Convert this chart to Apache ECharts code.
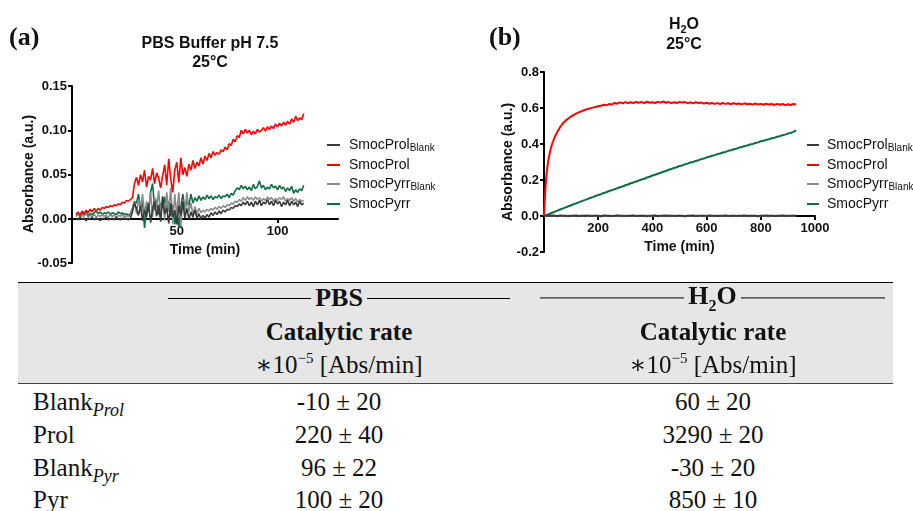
<!DOCTYPE html>
<html>
<head>
<meta charset="utf-8">
<script src="https://cdn.jsdelivr.net/npm/echarts@6/dist/echarts.min.js"></script>
<style>
  html, body { margin: 0; padding: 0; background: #fff; }
  #wrap { position: relative; width: 913px; height: 511px; overflow: hidden; }
  #chart { position: absolute; left: 0; top: 0; width: 913px; height: 282px; }
  .tb { font-family: 'Liberation Serif', 'DejaVu Serif', serif; color: #111; }
  .hdr { position: absolute; left: 18px; top: 282px; width: 875px; height: 100px;
         background: #e6e6e6; border-top: 1.5px solid #000; border-bottom: 1px solid #444; }
  .c { position: absolute; transform: translate(-50%, -50%); white-space: nowrap; font-size: 25px; }
  .l { position: absolute; transform: translate(0, -50%); white-space: nowrap; font-size: 25px; }
  .b { font-weight: bold; }
  .grp { position: absolute; display: flex; align-items: center; transform: translateY(-50%);
         font-size: 26px; font-weight: bold; }
  .rule { flex: 1; border-top: 1.5px solid #000; height: 0; }
  .grp .t { padding: 0 4px; }
  .sub { font-style: italic; font-size: 18px; position: relative; top: 6px; }
  sup { font-size: 15px; }
</style>
</head>
<body>
<div id="wrap">
  <div id="chart"></div>
  <div class="tb">
    <div class="hdr"></div>
    <div class="grp" style="left:168px;width:342px;top:298px"><span class="rule"></span><span class="t">PBS</span><span class="rule"></span></div>
    <div class="grp" style="left:540px;width:345px;top:298px"><span class="rule"></span><span class="t">H<sub style="font-size:16px">2</sub>O</span><span class="rule"></span></div>
    <div class="c b" style="left:339px;top:332px">Catalytic rate</div>
    <div class="c b" style="left:713px;top:332px">Catalytic rate</div>
    <div class="c" style="left:339px;top:364px">∗10<sup>−5</sup> [Abs/min]</div>
    <div class="c" style="left:713px;top:364px">∗10<sup>−5</sup> [Abs/min]</div>
    <div id="rows"></div>
  </div>
</div>
<script>
// ---- panel (a): PBS buffer, sampled every minute ----
const timeA = [];
for (let t = 0; t <= 113; t++) timeA.push(t);

const prolBlankA = [
  0.001, -0.001, 0.002, 0.0, 0.001, -0.002, 0.001, 0.0, 0.002, -0.001,
  0.001, 0.0, -0.002, 0.001, 0.0, 0.002, -0.001, 0.0, 0.001, -0.001,
  0.002, 0.0, -0.001, 0.001, 0.0, 0.001, -0.001, 0.001,
  0.008, 0.018, 0.012, 0.004, 0.015, -0.002, 0.010, 0.002, 0.018, -0.004,
  0.012, 0.020, 0.003, 0.016, -0.003, 0.025, 0.006, 0.012, -0.005, 0.018,
  0.002, 0.010, -0.006, 0.015, 0.004, 0.020, 0.001, 0.012, 0.0, 0.008,
  0.002, 0.010, 0.001, 0.006, 0.0, 0.004, 0.001, 0.005, 0.002, 0.007,
  0.004, 0.008, 0.005, 0.009, 0.006, 0.010, 0.008, 0.011, 0.010, 0.013,
  0.012, 0.015, 0.014, 0.017, 0.015, 0.019, 0.016, 0.020, 0.015, 0.019,
  0.014, 0.020, 0.016, 0.021, 0.015, 0.019, 0.017, 0.022, 0.016, 0.020,
  0.015, 0.021, 0.017, 0.020, 0.014, 0.019, 0.016, 0.021, 0.015, 0.020,
  0.016, 0.019, 0.014, 0.020, 0.016, 0.018
];
const prolA = [
  0.005, 0.008, 0.004, 0.009, 0.006, 0.010, 0.007, 0.011, 0.008, 0.012,
  0.009, 0.012, 0.010, 0.013, 0.012, 0.014, 0.013, 0.015, 0.014, 0.016,
  0.015, 0.017, 0.016, 0.019, 0.018, 0.021, 0.020, 0.022,
  0.024, 0.040, 0.047, 0.038, 0.050, 0.042, 0.055, 0.036, 0.048, 0.044,
  0.057, 0.040, 0.052, 0.046, 0.035, 0.049, 0.061, 0.038, 0.068, 0.045,
  0.030, 0.055, 0.064, 0.041, 0.069, 0.050, 0.058, 0.048, 0.062, 0.055,
  0.066, 0.057, 0.064, 0.060, 0.069, 0.062, 0.071, 0.066, 0.074, 0.069,
  0.076, 0.072, 0.075, 0.073, 0.078, 0.076, 0.081, 0.078, 0.085, 0.083,
  0.090, 0.087, 0.094, 0.092, 0.100, 0.096, 0.101, 0.097, 0.100, 0.095,
  0.099, 0.096, 0.101, 0.098, 0.100, 0.103, 0.099, 0.104, 0.101, 0.105,
  0.102, 0.107, 0.104, 0.108, 0.105, 0.109, 0.106, 0.110, 0.107, 0.113,
  0.109, 0.116, 0.111, 0.114, 0.112, 0.119
];
const pyrrBlankA = [
  0.003, 0.005, 0.002, 0.004, 0.003, 0.006, 0.002, 0.004, 0.003, 0.005,
  0.002, 0.004, 0.003, 0.005, 0.003, 0.004, 0.002, 0.005, 0.003, 0.004,
  0.002, 0.004, 0.003, 0.005, 0.002, 0.004, 0.003, 0.004,
  0.010, 0.020, 0.006, 0.022, 0.010, 0.028, 0.005, 0.020, 0.010, 0.030,
  0.002, 0.025, 0.012, 0.032, 0.004, 0.026, -0.002, 0.030, 0.008, 0.035,
  -0.006, 0.028, 0.004, 0.030, -0.008, 0.022, 0.006, 0.030, 0.008, 0.018,
  0.005, 0.014, 0.006, 0.012, 0.007, 0.010, 0.008, 0.011, 0.009, 0.012,
  0.010, 0.013, 0.011, 0.014, 0.012, 0.015, 0.013, 0.016, 0.015, 0.018,
  0.017, 0.020, 0.019, 0.022, 0.020, 0.024, 0.021, 0.025, 0.022, 0.024,
  0.021, 0.025, 0.022, 0.024, 0.020, 0.023, 0.021, 0.025, 0.022, 0.024,
  0.020, 0.023, 0.021, 0.024, 0.022, 0.025, 0.020, 0.023, 0.021, 0.024,
  0.020, 0.023, 0.019, 0.022, 0.020, 0.021
];
const pyrrA = [
  0.004, 0.006, 0.003, 0.007, 0.005, 0.008, 0.004, 0.006, 0.005, 0.007,
  0.009, 0.006, 0.008, 0.005, 0.007, 0.006, 0.008, 0.005, 0.007, 0.006,
  0.005, 0.008, 0.006, 0.007, 0.005, 0.006, 0.004, 0.006,
  0.012, 0.020, 0.018, 0.028, 0.012, 0.020, -0.010, 0.015, 0.008, 0.030,
  0.040, 0.010, 0.022, 0.005, 0.018, 0.012, 0.025, 0.008, 0.020, 0.003,
  0.016, -0.006, 0.010, -0.010, 0.014, 0.028, 0.010, 0.022, 0.015, 0.028,
  0.018, 0.024, 0.020, 0.026, 0.021, 0.025, 0.022, 0.027, 0.023, 0.026,
  0.022, 0.025, 0.024, 0.027, 0.023, 0.026, 0.025, 0.028, 0.024, 0.029,
  0.027, 0.032, 0.035, 0.033, 0.038, 0.034, 0.037, 0.033, 0.036, 0.032,
  0.039, 0.034, 0.037, 0.043, 0.035, 0.038, 0.033, 0.036, 0.034, 0.039,
  0.035, 0.037, 0.033, 0.038, 0.034, 0.036, 0.031, 0.035, 0.032, 0.037,
  0.029, 0.033, 0.030, 0.034, 0.032, 0.038
];

// ---- panel (b): water ----
const timeB = [0, 2, 4, 6, 8, 10, 15, 20, 25, 30];
for (let t = 40; t <= 930; t += 10) timeB.push(t);

const prolBlankB = [
  0.001, 0.002, 0.0, 0.003, 0.001, 0.002, 0.0, 0.002, 0.001, 0.003,
  0.002, 0.0, 0.003, 0.001, 0.002, -0.001, 0.002, 0.001, 0.003, 0.0,
  0.002, 0.001, 0.003, 0.0, 0.002, 0.001, 0.002, -0.001, 0.003, 0.001,
  0.002, 0.0, 0.001, 0.003, 0.001, 0.002, 0.0, 0.002, 0.001, 0.003,
  0.0, 0.002, 0.001, 0.002, -0.001, 0.002, 0.001, 0.003, 0.0, 0.002,
  0.001, 0.003, 0.001, 0.002, 0.0, 0.002, 0.001, 0.002, -0.001, 0.002,
  0.001, 0.003, 0.0, 0.002, 0.001, 0.002, 0.0, 0.003, 0.001, 0.002,
  0.0, 0.002, 0.001, 0.003, 0.0, 0.001, 0.002, 0.0, 0.002, 0.001,
  0.003, 0.0, 0.002, 0.001, 0.002, -0.001, 0.002, 0.001, 0.003, 0.001,
  0.002, 0.0, 0.002, 0.001, 0.003, 0.0, 0.002, 0.001, 0.002, 0.001
];
const prolB = [
  0.0, 0.06, 0.12, 0.17, 0.21, 0.24, 0.30, 0.34, 0.375, 0.40,
  0.44, 0.47, 0.495, 0.515, 0.53, 0.542, 0.553, 0.562, 0.57, 0.577,
  0.583, 0.589, 0.594, 0.598, 0.602, 0.606,
  0.610, 0.612, 0.618, 0.615, 0.622, 0.619, 0.628, 0.624, 0.631, 0.626,
  0.633, 0.627, 0.632, 0.628, 0.634, 0.629, 0.633, 0.627, 0.635, 0.629,
  0.632, 0.628, 0.634, 0.630, 0.636, 0.629, 0.633, 0.627, 0.632, 0.628,
  0.634, 0.630, 0.633, 0.627, 0.631, 0.626, 0.632, 0.628, 0.630, 0.625,
  0.629, 0.624, 0.628, 0.623, 0.627, 0.622, 0.628, 0.623, 0.626, 0.621,
  0.627, 0.622, 0.625, 0.620, 0.626, 0.621, 0.624, 0.619, 0.625, 0.620,
  0.623, 0.618, 0.624, 0.619, 0.622, 0.617, 0.623, 0.618, 0.622, 0.616,
  0.621, 0.617, 0.622, 0.619
];
const pyrrBlankB = [
  0.0, 0.001, -0.001, 0.0, 0.002, -0.001, 0.001, 0.0, -0.002, 0.001,
  0.0, -0.001, 0.001, 0.0, -0.002, 0.001, 0.0, 0.002, -0.001, 0.0,
  0.001, -0.001, 0.0, 0.002, -0.001, 0.001, 0.0, -0.002, 0.001, 0.0,
  -0.001, 0.001, 0.0, 0.002, 0.0, -0.001, 0.001, -0.002, 0.0, 0.001,
  0.0, -0.001, 0.002, 0.0, 0.001, -0.001, 0.0, 0.001, -0.002, 0.0,
  0.001, 0.0, -0.001, 0.002, 0.0, -0.001, 0.001, 0.0, -0.002, 0.001,
  0.0, 0.001, -0.001, 0.0, 0.002, -0.001, 0.0, 0.001, -0.001, 0.0,
  0.002, 0.0, -0.001, 0.001, 0.0, -0.002, 0.001, 0.0, 0.001, -0.001,
  0.0, 0.002, -0.001, 0.0, 0.001, -0.001, 0.0, 0.002, 0.0, -0.001,
  0.001, 0.0, -0.002, 0.001, 0.0, 0.001, -0.001, 0.0, 0.002, 0.0
];
const pyrrB = [
  0.0, 0.001, 0.002, 0.003, 0.004, 0.006, 0.009, 0.012, 0.015, 0.018,
  0.024, 0.030, 0.036, 0.042, 0.048, 0.054, 0.060, 0.066, 0.071, 0.077,
  0.083, 0.088, 0.094, 0.100, 0.105, 0.111,
  0.117, 0.121, 0.128, 0.132, 0.139, 0.143, 0.149, 0.154, 0.160, 0.164,
  0.171, 0.175, 0.182, 0.186, 0.192, 0.197, 0.203, 0.207, 0.214, 0.218,
  0.225, 0.229, 0.235, 0.240, 0.246, 0.250, 0.257, 0.261, 0.267, 0.271,
  0.278, 0.281, 0.287, 0.291, 0.297, 0.300, 0.306, 0.310, 0.316, 0.319,
  0.326, 0.329, 0.335, 0.338, 0.344, 0.347, 0.353, 0.356, 0.362, 0.365,
  0.371, 0.374, 0.380, 0.383, 0.389, 0.392, 0.397, 0.400, 0.406, 0.409,
  0.415, 0.418, 0.423, 0.426, 0.432, 0.435, 0.440, 0.443, 0.449, 0.452,
  0.458, 0.461, 0.467, 0.476
];

const seriesNames = ['SmocProl_Blank', 'SmocProl', 'SmocPyrr_Blank', 'SmocPyrr'];
const colors = { SmocProl_Blank: '#3a3a3a', SmocProl: '#ff0000', SmocPyrr_Blank: '#8a8a8a', SmocPyrr: '#0b6e45' };
const xTicksA = [50, 100];
const xTicksB = [200, 400, 600, 800, 1000];

// table rows
const rowNames = [['Blank', 'Prol'], ['Prol', ''], ['Blank', 'Pyr'], ['Pyr', '']];
const ratePBS = ['-10 ± 20', '220 ± 40', '96 ± 22', '100 ± 20'];
const rateH2O = ['60 ± 20', '3290 ± 20', '-30 ± 20', '850 ± 10'];
const rowY = [402, 435, 468, 500];

let rowsHtml = '';
rowNames.forEach((r, i) => {
  rowsHtml += '<div class="l" style="left:33px;top:' + rowY[i] + 'px">' + r[0] +
    (r[1] ? '<span class="sub">' + r[1] + '</span>' : '') + '</div>';
  rowsHtml += '<div class="c" style="left:339px;top:' + rowY[i] + 'px">' + ratePBS[i] + '</div>';
  rowsHtml += '<div class="c" style="left:713px;top:' + rowY[i] + 'px">' + rateH2O[i] + '</div>';
});
document.getElementById('rows').innerHTML = rowsHtml;

const FONT = 'Liberation Sans, Arial, sans-serif';
const AXIS_LINE = { show: true, onZero: false, lineStyle: { color: '#000', width: 2 } };
const TICK_LABEL = { color: '#111', fontSize: 13, fontWeight: 'bold', fontFamily: FONT };

function pairs(times, vals) {
  return times.map((t, i) => [t, vals[i]]);
}

function legendFmt(name) {
  const p = name.split('_');
  return p[1] ? '{m|' + p[0] + '}{s|' + p[1] + '}' : '{m|' + p[0] + '}';
}

const legendRich = {
  m: { fontSize: 14, fontFamily: FONT, color: '#111', lineHeight: 16 },
  s: { fontSize: 10, fontFamily: FONT, color: '#111', lineHeight: 10, verticalAlign: 'bottom' }
};

const chart = echarts.init(document.getElementById('chart'));

// each panel = upper grid (0 .. max) + lower grid (min .. 0) so that the
// time axis sits on the zero line together with its labels
const allSeries = [];
const drawOrder = ['SmocPyrr', 'SmocPyrr_Blank', 'SmocProl_Blank', 'SmocProl'];
const dataA = { SmocProl_Blank: prolBlankA, SmocProl: prolA, SmocPyrr_Blank: pyrrBlankA, SmocPyrr: pyrrA };
const dataB = { SmocProl_Blank: prolBlankB, SmocProl: prolB, SmocPyrr_Blank: pyrrBlankB, SmocPyrr: pyrrB };
drawOrder.forEach(n => {
  allSeries.push({
    name: n, type: 'line', xAxisIndex: 0, yAxisIndex: 0, showSymbol: false, clip: false,
    lineStyle: { width: 1.6, color: colors[n] }, itemStyle: { color: colors[n] },
    data: pairs(timeA, dataA[n])
  });
});
drawOrder.forEach(n => {
  allSeries.push({
    name: n, type: 'line', xAxisIndex: 2, yAxisIndex: 2, showSymbol: false, clip: false,
    lineStyle: { width: 2, color: colors[n] }, itemStyle: { color: colors[n] },
    data: pairs(timeB, dataB[n])
  });
});

const yName = (x, y) => ({
  type: 'text', x: x, y: y, rotation: Math.PI / 2,
  style: { text: 'Absorbance (a.u.)', font: 'bold 14px Liberation Sans', fill: '#111',
    textAlign: 'center', textVerticalAlign: 'middle' }
});

chart.setOption({
  animation: false,
  backgroundColor: '#fff',
  title: [
    {
      text: 'PBS Buffer pH 7.5\n25°C', left: 205, top: 29, textAlign: 'center',
      textStyle: { fontSize: 16, fontWeight: 'bold', fontFamily: FONT, color: '#111', lineHeight: 19 }
    },
    {
      text: '{t|H}{s|2}{t|O}\n{t|25°C}', left: 679, top: 10, textAlign: 'center',
      textStyle: {
        rich: {
          t: { fontSize: 16, fontWeight: 'bold', fontFamily: FONT, color: '#111', lineHeight: 20 },
          s: { fontSize: 11, fontWeight: 'bold', fontFamily: FONT, color: '#111', lineHeight: 11, verticalAlign: 'bottom' }
        }
      }
    }
  ],
  graphic: [
    { type: 'text', left: 9, top: 25, style: { text: '(a)', font: 'bold 26px Liberation Serif', fill: '#111' } },
    { type: 'text', left: 489, top: 25, style: { text: '(b)', font: 'bold 26px Liberation Serif', fill: '#111' } },
    yName(29, 174),
    yName(508, 162)
  ],
  legend: [
    {
      orient: 'vertical', left: 322, top: 133, itemGap: 5, itemWidth: 13, itemHeight: 2, icon: 'rect',
      data: seriesNames, formatter: legendFmt, textStyle: { padding: [0, 0, 0, 4], rich: legendRich },
      selectedMode: false
    },
    {
      orient: 'vertical', left: 802, top: 133, itemGap: 5, itemWidth: 12, itemHeight: 2, icon: 'rect',
      data: seriesNames, formatter: legendFmt, textStyle: { padding: [0, 0, 0, 3], rich: legendRich },
      selectedMode: false
    }
  ],
  grid: [
    { left: 72, top: 86, width: 266, height: 133, outerBoundsMode: 'none', containLabel: false },
    { left: 72, top: 219, width: 266, height: 44, outerBoundsMode: 'none', containLabel: false },
    { left: 544, top: 72, width: 271, height: 144, outerBoundsMode: 'none', containLabel: false },
    { left: 544, top: 216, width: 271, height: 36, outerBoundsMode: 'none', containLabel: false }
  ],
  xAxis: [
    {
      type: 'value', gridIndex: 0, min: -2, max: 130, splitLine: { show: false },
      name: 'Time (min)', nameLocation: 'middle', nameGap: 24,
      nameTextStyle: { color: '#111', fontSize: 14, fontWeight: 'bold', fontFamily: FONT },
      axisLine: AXIS_LINE,
      axisTick: { show: true, length: 4, customValues: xTicksA, lineStyle: { color: '#000', width: 2 } },
      axisLabel: Object.assign({ margin: 6, customValues: xTicksA, formatter: v => String(v) }, TICK_LABEL)
    },
    { type: 'value', gridIndex: 1, min: -2, max: 130, show: false },
    {
      type: 'value', gridIndex: 2, min: 0, max: 1000, splitLine: { show: false },
      name: 'Time (min)', nameLocation: 'middle', nameGap: 23,
      nameTextStyle: { color: '#111', fontSize: 14, fontWeight: 'bold', fontFamily: FONT },
      axisLine: AXIS_LINE,
      axisTick: { show: true, length: 4, customValues: xTicksB, lineStyle: { color: '#000', width: 2 } },
      axisLabel: Object.assign({ margin: 6, customValues: xTicksB, formatter: v => String(v) }, TICK_LABEL)
    },
    { type: 'value', gridIndex: 3, min: 0, max: 1000, show: false }
  ],
  yAxis: [
    {
      type: 'value', gridIndex: 0, min: 0, max: 0.15, interval: 0.05, splitLine: { show: false },
      axisLine: AXIS_LINE,
      axisTick: { show: true, length: 4, lineStyle: { color: '#000', width: 2 } },
      axisLabel: Object.assign({ margin: 5, formatter: v => v.toFixed(2) }, TICK_LABEL)
    },
    {
      type: 'value', gridIndex: 1, min: -0.05, max: 0, interval: 0.05, splitLine: { show: false },
      axisLine: AXIS_LINE,
      axisTick: { show: true, length: 4, lineStyle: { color: '#000', width: 2 } },
      axisLabel: Object.assign({ margin: 5, formatter: v => (v < 0 ? v.toFixed(2) : '') }, TICK_LABEL)
    },
    {
      type: 'value', gridIndex: 2, min: 0, max: 0.8, interval: 0.2, splitLine: { show: false },
      axisLine: AXIS_LINE,
      axisTick: { show: true, length: 4, lineStyle: { color: '#000', width: 2 } },
      axisLabel: Object.assign({ margin: 5, formatter: v => v.toFixed(1) }, TICK_LABEL)
    },
    {
      type: 'value', gridIndex: 3, min: -0.2, max: 0, interval: 0.2, splitLine: { show: false },
      axisLine: AXIS_LINE,
      axisTick: { show: true, length: 4, lineStyle: { color: '#000', width: 2 } },
      axisLabel: Object.assign({ margin: 5, formatter: v => (v < 0 ? v.toFixed(1) : '') }, TICK_LABEL)
    }
  ],
  series: allSeries
});
</script>
</body>
</html>
